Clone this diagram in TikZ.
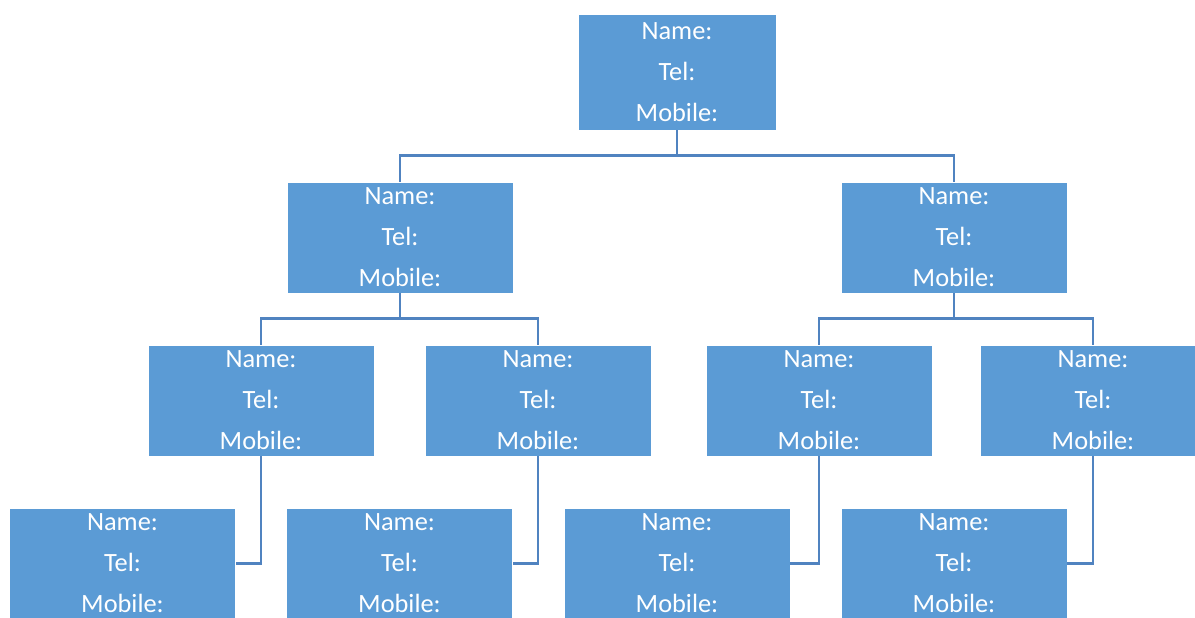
\documentclass[tikz,border=0pt]{standalone}
\usepackage{fontspec}
\setmainfont{Carlito}
\definecolor{boxblue}{HTML}{5B9BD5}
\definecolor{linkblue}{HTML}{5083C0}
\tikzset{
    card/.style={fill=boxblue, draw=white, line width=0.4pt, text=white,
        minimum width=4.52cm, minimum height=2.22cm, align=center,
        inner sep=0pt, font=\fontsize{15}{23.3}\selectfont},
    link/.style={draw=linkblue, line width=1.6pt}
}
\newcommand{\cardtext}{Name:\\Tel:\\Mobile:}
\begin{document}
\begin{tikzpicture}
        \useasboundingbox (0,0) rectangle (23.9,12.34);
        \clip (0,0) rectangle (23.9,12.34);

        \node[card, minimum width=3.96cm, minimum height=2.32cm] (top) at (13.54,10.90) {\cardtext};

        \node[card] (left) at (8.00,7.59) {\cardtext};
        \node[card] (right) at (19.08,7.59) {\cardtext};

        \foreach \x/\n in {5.22/a,10.76/b,16.38/c,21.86/d} {
            \node[card] (mid\n) at (\x,4.33) {\cardtext};
        }

        \foreach \x/\n in {2.45/a,7.99/b,13.54/c,19.08/d} {
            \node[card] (low\n) at (\x,1.07) {\cardtext};
        }

        \draw[link] (top.south) -- ++(0,-0.50) coordinate (topfork);
        \draw[link] (topfork) -| (left.north);
        \draw[link] (topfork) -| (right.north);

        \draw[link] (left.south) -- ++(0,-0.50) coordinate (leftfork);
        \draw[link] (leftfork) -| (mida.north);
        \draw[link] (leftfork) -| (midb.north);

        \draw[link] (right.south) -- ++(0,-0.50) coordinate (rightfork);
        \draw[link] (rightfork) -| (midc.north);
        \draw[link] (rightfork) -| (midd.north);

        \foreach \n in {a,b,c,d} {
            \draw[link] (mid\n.south) |- (low\n.east);
        }

    \end{tikzpicture}
\end{document}
